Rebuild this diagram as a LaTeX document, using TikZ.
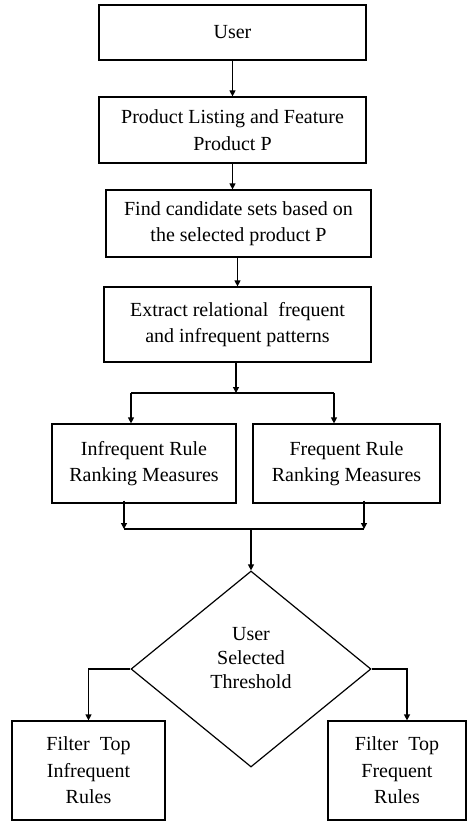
\documentclass[tikz,border=0pt]{standalone}
\usepackage{fontspec}
\setmainfont{Liberation Serif}
\usetikzlibrary{arrows.meta,shapes.geometric}
\tikzset{
  box/.style={draw=black, line width=1.2pt, rectangle, inner sep=0pt, align=center,
    font=\fontsize{20}{26.5}\selectfont},
  txt/.style={align=center, inner sep=0pt, font=\fontsize{20}{24}\selectfont},
  arr/.style={draw=black, line width=1.2pt, -{Triangle[length=6pt,width=6pt]}},
  ln/.style={draw=black, line width=1.2pt},
}
\begin{document}
\begin{tikzpicture}[x=1pt,y=-1pt]
\useasboundingbox (0,0) rectangle (467,821);
% boxes (x-range / y-range from the reference)
\node[box, minimum width=267pt, minimum height=55pt] (user) at (232.5,32.5) {User};
\node[box, minimum width=267pt, minimum height=66pt] (prod) at (232.5,130) {Product Listing and Feature\\Product P};
\node[box, minimum width=265pt, minimum height=67pt] (find) at (238.5,223.5) {Find candidate sets based on\\the selected product P};
\node[box, minimum width=267pt, minimum height=75pt] (ext) at (237.5,324.5) {Extract relational\ \ frequent\\and infrequent\ patterns};
\node[box, minimum width=184pt, minimum height=79pt] (inf) at (144,463.5) {Infrequent Rule\\Ranking Measures};
\node[box, minimum width=187pt, minimum height=79pt] (freq) at (346.5,463.5) {Frequent Rule\\Ranking Measures};
\node[draw=black, line width=1.2pt, diamond, minimum width=240pt, minimum height=196pt, inner sep=0pt] (dec) at (251,669) {};
\node[txt] (dect) at (251,658) {User\\Selected\\Threshold};
\node[box, minimum width=153pt, minimum height=99pt] (fl) at (88.5,770.5) {Filter\ \ Top\\Infrequent\\Rules};
\node[box, minimum width=138pt, minimum height=99pt] (fr) at (397,770.5) {Filter\ \ Top\\Frequent\\Rules};
% connectors
\draw[arr] (user.south) -- (prod.north);
\draw[arr] (prod.south) -- (prod.south |- find.north);
\draw[arr] (find.south -| ext.north) -- (ext.north);
\coordinate (s1) at (236,393);
\coordinate (sl) at (131,393);
\coordinate (sr) at (334,393);
\draw[arr] (ext.south -| s1) -- (s1);
\draw[ln] (sl) -- (sr);
\draw[arr] (sl) -- (sl |- inf.north);
\draw[arr] (sr) -- (sr |- freq.north);
\coordinate (ml) at (124,529);
\coordinate (mr) at (364,529);
\draw[arr] ([yshift=3pt]inf.south -| ml) -- (ml);
\draw[arr] ([yshift=3pt]freq.south -| mr) -- (mr);
\draw[ln] (ml) -- (mr);
\draw[arr] (dec.north |- ml) -- (dec.north);
\draw[arr] (dec.west) -| (fl.north);
\coordinate (rk) at (407,669);
\draw[arr] (dec.east) -| (rk |- fr.north);
\end{tikzpicture}
\end{document}
